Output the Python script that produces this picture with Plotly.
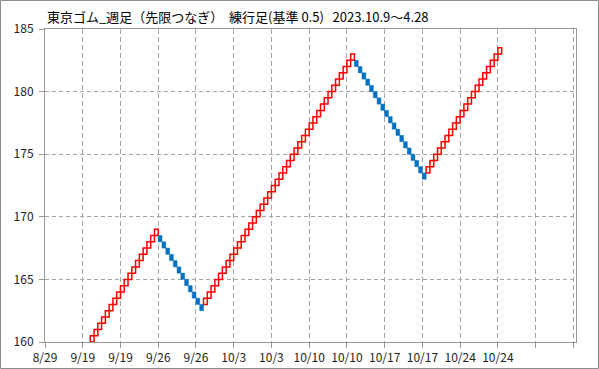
import plotly.graph_objects as go

# ---- data (renko bricks, box size 0.5) ----
box_size = 0.5
first_brick_index = 12  # earlier bricks lie below the visible range
run1_up_lows = [160.0, 160.5, 161.0, 161.5, 162.0, 162.5, 163.0, 163.5, 164.0,
                164.5, 165.0, 165.5, 166.0, 166.5, 167.0, 167.5, 168.0, 168.5]
run2_down_lows = [168.0, 167.5, 167.0, 166.5, 166.0, 165.5, 165.0, 164.5, 164.0,
                  163.5, 163.0, 162.5]
run3_up_lows = [163.0, 163.5, 164.0, 164.5, 165.0, 165.5, 166.0, 166.5, 167.0,
                167.5, 168.0, 168.5, 169.0, 169.5, 170.0, 170.5, 171.0, 171.5,
                172.0, 172.5, 173.0, 173.5, 174.0, 174.5, 175.0, 175.5, 176.0,
                176.5, 177.0, 177.5, 178.0, 178.5, 179.0, 179.5, 180.0, 180.5,
                181.0, 181.5, 182.0, 182.5]
run4_down_lows = [182.0, 181.5, 181.0, 180.5, 180.0, 179.5, 179.0, 178.5, 178.0,
                  177.5, 177.0, 176.5, 176.0, 175.5, 175.0, 174.5, 174.0, 173.5,
                  173.0]
run5_up_lows = [173.5, 174.0, 174.5, 175.0, 175.5, 176.0, 176.5, 177.0, 177.5,
                178.0, 178.5, 179.0, 179.5, 180.0, 180.5, 181.0, 181.5, 182.0,
                182.5, 183.0]

tick_labels = ["8/29", "9/19", "9/19", "9/26", "9/26", "10/3", "10/3", "10/10",
               "10/10", "10/17", "10/17", "10/24", "10/24", "", ""]
label_every = 10
n_slots = 140.7

title_text = ("東京ゴム_週足（先限つなぎ）\u00a0\u00a0練行足(基準\u00a00.5)"
              "\u00a0\u00a0\u00a02023.10.9～4.28")

# ---- assemble bricks ----
runs = [("up", run1_up_lows), ("down", run2_down_lows), ("up", run3_up_lows),
        ("down", run4_down_lows), ("up", run5_up_lows)]
up_x, up_base, down_x, down_base = [], [], [], []
idx = first_brick_index
for direction, lows in runs:
    for low in lows:
        if direction == "up":
            up_x.append(idx)
            up_base.append(low)
        else:
            down_x.append(idx)
            down_base.append(low)
        idx += 1

fig = go.Figure()
fig.add_trace(go.Bar(
    x=up_x, y=[box_size] * len(up_x), base=up_base, width=1.0,
    marker=dict(color="white", line=dict(color="#FF0000", width=1.5)),
    hoverinfo="skip", showlegend=False))
fig.add_trace(go.Bar(
    x=down_x, y=[box_size] * len(down_x), base=down_base, width=1.0,
    marker=dict(color="#0070C0", line=dict(color="#0070C0", width=0.5)),
    hoverinfo="skip", showlegend=False))

tickvals = [-0.5 + label_every * k for k in range(len(tick_labels))]

grid_col = "#A6A6A6"
axis_col = "#969696"
L, R, T, B = 45, 23, 29, 27
W, H = 599, 369
pw, ph = W - L - R, H - T - B

fig.update_layout(
    width=W, height=H, barmode="overlay",
    margin=dict(l=L, r=R, t=T, b=B, pad=0, autoexpand=False),
    paper_bgcolor="white", plot_bgcolor="white",
    font=dict(family="Noto Sans CJK JP", size=12, color="#222222"),
    xaxis=dict(range=[-0.5, -0.5 + n_slots], tickmode="array",
               tickvals=tickvals, ticktext=tick_labels, automargin=False,
               showgrid=True, gridcolor=grid_col, griddash="5px,3px", gridwidth=1,
               showline=True, linecolor=axis_col, linewidth=1, mirror=True,
               ticks="outside", ticklen=5, tickcolor=axis_col,
               zeroline=False, tickfont=dict(size=12)),
    yaxis=dict(range=[160, 185], tickmode="linear", tick0=160, dtick=5,
               automargin=False,
               showgrid=True, gridcolor=grid_col, griddash="4px,3px", gridwidth=1,
               showline=True, linecolor=axis_col, linewidth=1, mirror=True,
               ticks="outside", ticklen=5, tickcolor=axis_col,
               zeroline=False, tickfont=dict(size=12), ticklabelstandoff=3),
    shapes=[dict(type="rect", xref="paper", yref="paper",
                 x0=(0.5 - L) / pw, x1=(W - 0.5 - L) / pw,
                 y0=(H - B - (H - 0.5)) / ph, y1=(H - B - 0.5) / ph,
                 line=dict(color="#8C8C8C", width=1), fillcolor="rgba(0,0,0,0)",
                 layer="above")],
    annotations=[dict(text=title_text, xref="paper", yref="paper",
                      x=0, y=(H - B - 17) / ph, xanchor="left", yanchor="middle",
                      showarrow=False,
                      font=dict(family="Noto Sans CJK JP", size=13, color="#000000"))],
)

fig.write_html("out.html")
